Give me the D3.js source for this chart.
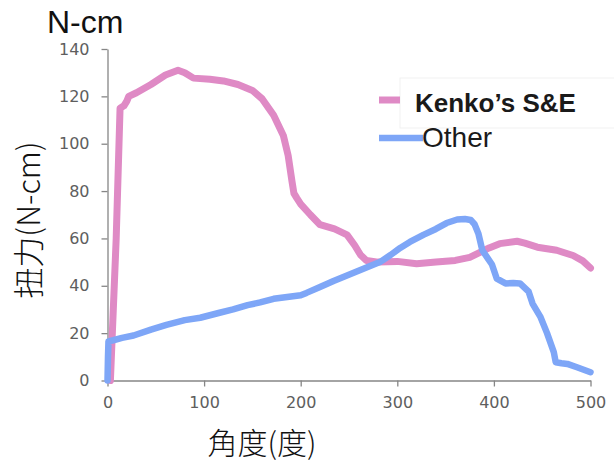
<!DOCTYPE html>
<html>
<head>
<meta charset="utf-8">
<script src="https://cdn.jsdelivr.net/npm/d3@7"></script>
<style>
  html, body { margin: 0; padding: 0; background: #fff; }
  svg { display: block; }
</style>
</head>
<body>
<svg id="chart" width="614" height="465"></svg>
<script>
// ---- data ----
const xTicks = [0, 100, 200, 300, 400, 500];
const yTicks = [0, 20, 40, 60, 80, 100, 120, 140];
const seriesNames = ["Kenko\u2019s S&E", "Other"];

const kenkoAngle = [3, 9, 13, 17, 20, 22, 30, 45, 60, 73, 80, 89, 106, 120, 135, 150, 160, 172, 182, 187, 191, 193, 196, 200, 210, 220, 235, 248, 256, 262, 268, 280, 300, 320, 340, 360, 375, 384, 395, 406, 424, 432, 445, 465, 482, 492, 500];
const kenkoTorque = [0, 60, 115, 116, 118, 120, 121.5, 125, 129, 131, 130, 127.7, 127.2, 126.5, 125, 122.5, 119, 112, 103.5, 95, 84, 79, 77, 74.5, 70, 65.8, 64, 61.5, 57, 53, 50.7, 50, 50.3, 49.3, 50, 50.7, 52, 53.8, 56, 57.8, 58.8, 58, 56.3, 55, 52.8, 50.5, 47.5];

const otherAngle = [0, 0.5, 1, 6, 15, 27, 45, 61, 80, 96, 115, 130, 145, 158, 172, 186, 200, 206, 220, 234, 246, 258, 270, 282, 293, 303, 313, 327, 340, 351, 362, 370, 376, 380, 384, 388, 393, 398, 403, 412, 420, 427, 436, 440, 448, 455, 462, 464, 470, 476, 486, 500];
const otherTorque = [0, 10, 16.5, 17, 18, 19, 21.5, 23.5, 25.5, 26.5, 28.5, 30, 31.8, 33, 34.5, 35.3, 36, 37, 39.5, 42, 44, 46, 48, 50, 53, 56, 58.5, 61.5, 64, 66.5, 68, 68.2, 67.8, 66, 62, 55, 52, 49, 43, 41, 41.2, 41, 37.5, 32.5, 27, 20, 12, 7.7, 7.3, 7, 5.6, 3.5];

// ---- layout ----
const svg = d3.select("#chart");
const x = d3.scaleLinear().domain([0, 500]).range([107.5, 590.5]);
const y = d3.scaleLinear().domain([0, 140]).range([380.5, 49]);

const axisColor = "#868686";
const labelColor = "#5e5e5e";

// axes
const xAxis = svg.append("g").attr("transform", "translate(0,380.5)")
  .call(d3.axisBottom(x).tickValues(xTicks).tickSize(6).tickPadding(10).tickSizeOuter(0));
const yAxis = svg.append("g").attr("transform", "translate(107.5,0)")
  .call(d3.axisLeft(y).tickValues(yTicks).tickSize(6).tickPadding(12).tickSizeOuter(0));
[xAxis, yAxis].forEach(g => {
  g.select(".domain").attr("stroke", axisColor).attr("stroke-width", 1.3);
  g.selectAll(".tick line").attr("stroke", axisColor).attr("stroke-width", 1.3);
  g.selectAll(".tick text").attr("fill", labelColor)
    .style("font-family", "'DejaVu Sans', sans-serif").style("font-size", "16px");
});

// lines
const pink = "#df8ac5";
const blue = "#7ea6f7";
const line = d3.line().x(d => x(d[0])).y(d => y(d[1]));
const kenko = kenkoAngle.map((a, i) => [a, kenkoTorque[i]]);
const other = otherAngle.map((a, i) => [a, otherTorque[i]]);

svg.append("path").datum(kenko).attr("d", line)
  .attr("fill", "none").attr("stroke", pink).attr("stroke-width", 7)
  .attr("stroke-linejoin", "round").attr("stroke-linecap", "round");
svg.append("path").datum(other).attr("d", line)
  .attr("fill", "none").attr("stroke", blue).attr("stroke-width", 6.5)
  .attr("stroke-linejoin", "round").attr("stroke-linecap", "round");

// legend
const lg = svg.append("g");
lg.append("rect").attr("x", 400).attr("y", 78).attr("width", 220).attr("height", 50)
  .attr("fill", "#fff").attr("stroke", "#f1f1f1").attr("stroke-width", 1);
lg.append("line").attr("x1", 379).attr("x2", 400).attr("y1", 100).attr("y2", 100)
  .attr("stroke", pink).attr("stroke-width", 7);
lg.append("line").attr("x1", 379).attr("x2", 423).attr("y1", 138).attr("y2", 138)
  .attr("stroke", blue).attr("stroke-width", 6.5);
lg.append("text").attr("x", 415).attr("y", 112).text(seriesNames[0])
  .style("font-family", "'Liberation Sans', Arial, sans-serif").style("font-size", "26px")
  .style("font-weight", "bold").attr("fill", "#1a1a1a");
lg.append("text").attr("x", 422).attr("y", 147).text(seriesNames[1])
  .style("font-family", "'Liberation Sans', Arial, sans-serif").style("font-size", "28px")
  .attr("fill", "#1a1a1a");

// titles
svg.append("text").attr("x", 47).attr("y", 33).text("N-cm")
  .style("font-family", "'Liberation Sans', Arial, sans-serif").style("font-size", "32px")
  .attr("fill", "#111");
svg.append("text").attr("transform", "translate(40,220) rotate(-90)")
  .attr("text-anchor", "middle").text("扭力(N-cm)")
  .style("font-family", "'Noto Sans CJK TC', 'Noto Sans CJK SC', sans-serif").style("font-size", "31px")
  .style("font-weight", "300").attr("fill", "#111");
svg.append("text").attr("x", 262).attr("y", 454).attr("text-anchor", "middle").text("角度(度)")
  .style("font-family", "'Noto Sans CJK TC', 'Noto Sans CJK SC', sans-serif").style("font-size", "30px")
  .style("font-weight", "300").attr("fill", "#111");
</script>
</body>
</html>
